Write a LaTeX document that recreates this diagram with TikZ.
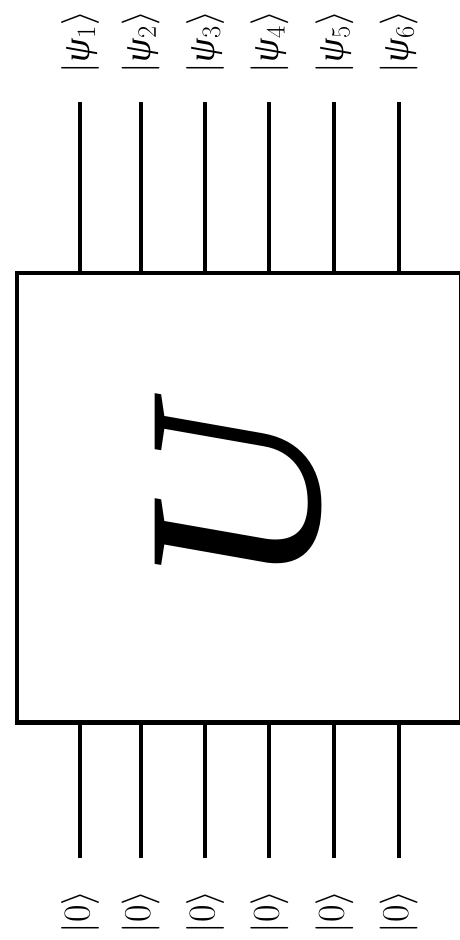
\RequirePackage{fix-cm}
\documentclass[tikz,border=0pt]{standalone}
\usepackage{fontspec}
\setmainfont{Liberation Serif}
\usetikzlibrary{positioning}
\tikzset{
  % thick lines everywhere, as in the printed circuit
  every picture/.append style = {line width=4.3pt},
  gatebox/.style  = {draw, rectangle, inner sep=0pt,
                     minimum width=444.5pt, minimum height=449.2pt},
  wire/.style     = {line width=4.2pt},
  ket/.style      = {rotate=90, inner sep=0pt, font=\fontsize{38}{40}\selectfont},
  gatelbl/.style  = {rotate=90, inner sep=0pt, font=\fontsize{251}{251}\selectfont\itshape},
}

\begin{document}
\begin{tikzpicture}[x=1pt, y=-1pt]
  \clip (0,0) rectangle (460,940);
  % unitary box
  \node[gatebox] (gate) at (239.25,497.9) {};
  \node[gatelbl] (ulbl) at (239,498) {U};
  % wires in and out
  \foreach \x [count=\i] in {80,140.7,205,269.3,334.3,398.7} {
    \coordinate (top\i) at (\x,102);
    \coordinate (bot\i) at (\x,858);
    \draw[wire] (top\i) -- (top\i |- gate.north);
    \draw[wire] (bot\i) -- (bot\i |- gate.south);
    \node[ket] (out\i) at (\x,42) {$|$\textit{ψ}$_{\i}\rangle$};
    \node[ket] (in\i) at (\x,912) {$|0\rangle$};
  }
\end{tikzpicture}
\end{document}
